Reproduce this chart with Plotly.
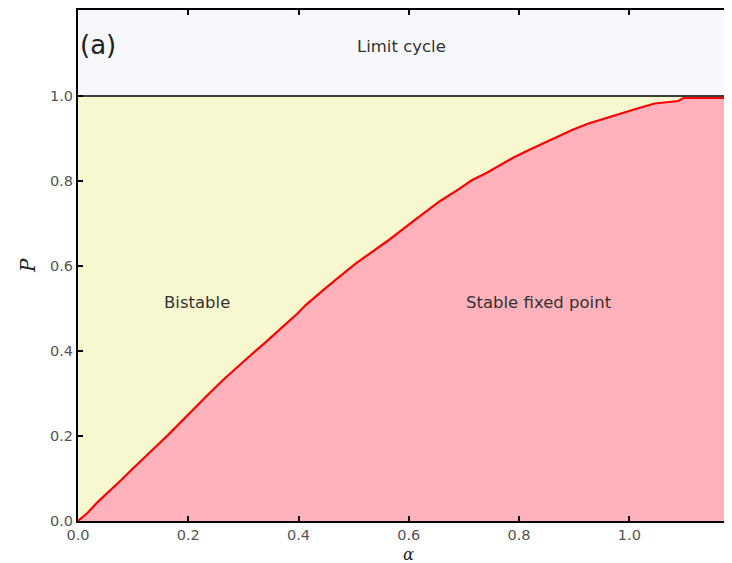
import plotly.graph_objects as go

# Boundary between bistable and stable fixed point regions
alpha = [0.0, 0.018, 0.036, 0.057, 0.078, 0.100, 0.121, 0.142, 0.163, 0.181, 0.199,
         0.220, 0.241, 0.265, 0.289, 0.313, 0.338, 0.368, 0.398, 0.413, 0.45, 0.504,
         0.564, 0.610, 0.655, 0.690, 0.715, 0.740, 0.763, 0.790, 0.817, 0.835, 0.850,
         0.875, 0.896, 0.926, 0.956, 0.986, 1.016, 1.046, 1.07, 1.089, 1.098, 1.183]
P_boundary = [0.0, 0.020, 0.045, 0.070, 0.096, 0.124, 0.151, 0.176, 0.202, 0.226, 0.249,
              0.277, 0.304, 0.334, 0.363, 0.390, 0.418, 0.452, 0.488, 0.508, 0.549, 0.606,
              0.661, 0.707, 0.751, 0.780, 0.802, 0.818, 0.835, 0.855, 0.872, 0.882, 0.892,
              0.907, 0.920, 0.935, 0.947, 0.960, 0.971, 0.982, 0.986, 0.988, 0.995, 0.995]

P_limit = 1.0
x_range = [0.0, 1.1826]
y_range = [0.0, 1.202]
x_ticks = [0.0, 0.2, 0.4, 0.6, 0.8, 1.0]
y_ticks = [0.0, 0.2, 0.4, 0.6, 0.8, 1.0]
tick_text = ["0.0", "0.2", "0.4", "0.6", "0.8", "1.0"]

region_labels = ["Limit cycle", "Bistable", "Stable fixed point"]
region_x = [0.586, 0.215, 0.837]
region_y = [1.115, 0.515, 0.515]

fig = go.Figure()

# Bistable region (everything below P = 1)
fig.add_trace(go.Scatter(x=[x_range[0], x_range[1]], y=[P_limit, P_limit],
                         mode="lines", fill="tozeroy",
                         fillcolor="rgb(248,248,208)",
                         line=dict(color="black", width=1.5),
                         hoverinfo="skip", showlegend=False))
# Stable fixed point region
fig.add_trace(go.Scatter(x=alpha, y=P_boundary, mode="lines", fill="tozeroy",
                         fillcolor="rgb(255,178,188)",
                         line=dict(color="red", width=2.2),
                         showlegend=False))

for t, xx, yy in zip(region_labels, region_x, region_y):
    fig.add_annotation(x=xx, y=yy, text=t, showarrow=False,
                       font=dict(family="DejaVu Sans", size=16.5, color="#333"))

fig.add_annotation(x=0.0, y=1.12, text="(a)", showarrow=False, xanchor="left",
                   xshift=0, font=dict(family="DejaVu Sans", size=26, color="#222"))
fig.add_annotation(x=0.6, y=0, yref="y", text="<i>α</i>", showarrow=False,
                   yshift=-33, font=dict(family="DejaVu Serif", size=16, color="#222"))
fig.add_annotation(x=0.0, y=0.6, text="<i>P</i>", showarrow=False, textangle=-90,
                   xshift=-50, font=dict(family="DejaVu Serif", size=20, color="#222"))

axis_common = dict(showline=True, linecolor="black", linewidth=2, mirror="ticks",
                   ticks="inside", ticklen=5, tickwidth=1.5, tickcolor="black",
                   showgrid=False, zeroline=False,
                   tickfont=dict(family="DejaVu Sans", size=14.5, color="#555"))

fig.update_xaxes(range=x_range, tickvals=x_ticks, ticktext=tick_text, **axis_common)
fig.update_yaxes(range=y_range, tickvals=y_ticks, ticktext=tick_text, **axis_common)

fig.update_layout(width=724, height=555,
                  margin=dict(l=70, r=0, t=2, b=42),
                  plot_bgcolor="rgb(247,248,253)", paper_bgcolor="white")

fig.write_html("out.html")
